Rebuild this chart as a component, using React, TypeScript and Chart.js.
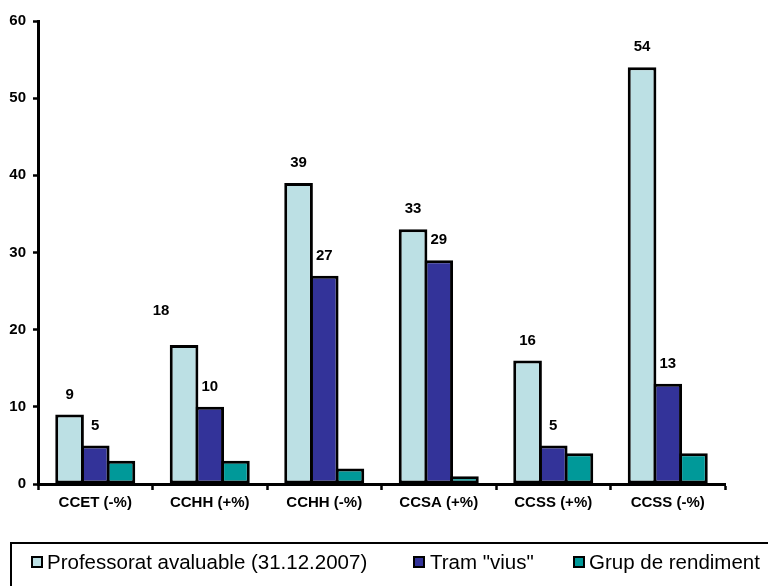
import React, { useEffect, useRef } from "react";
import { Chart, registerables } from "chart.js";

Chart.register(...registerables);

const categories = ["CCET (-%)", "CCHH (+%)", "CCHH (-%)", "CCSA (+%)", "CCSS (+%)", "CCSS (-%)"];
const seriesNames = ["Professorat avaluable (31.12.2007)", 'Tram "vius"', "Grup de rendiment"];
const professorat = [9, 18, 39, 33, 16, 54];
const tramVius = [5, 10, 27, 29, 5, 13];
const grupRendiment = [3, 3, 2, 1, 4, 4];
const seriesColors = ["#BCE0E4", "#333399", "#009999"];

const FONT = "'Liberation Sans', Arial, sans-serif";

const labelPlugin = {
  id: "barLabels",
  afterDatasetsDraw(chart: any) {
    const ctx = chart.ctx;
    ctx.save();
    ctx.font = `bold 15px ${FONT}`;
    ctx.fillStyle = "#000";
    ctx.textAlign = "center";
    ctx.textBaseline = "middle";
    [0, 1].forEach((di) => {
      const meta = chart.getDatasetMeta(di);
      const data = chart.data.datasets[di].data;
      meta.data.forEach((bar: any, i: number) => {
        let dx = 0;
        let dy = 0;
        if (di === 0 && i === 1) {
          dx = -23;
          dy = -14;
        }
        ctx.fillText(String(data[i]), bar.x + dx, bar.y - 20 + dy);
      });
    });
    ctx.restore();
  },
};

export default function App() {
  const ref = useRef<HTMLCanvasElement>(null);
  useEffect(() => {
    document.body.style.margin = "0";
    const values = [professorat, tramVius, grupRendiment];
    const chart = new Chart(ref.current!, {
      type: "bar",
      data: {
        labels: categories,
        datasets: values.map((v, i) => ({
          label: seriesNames[i],
          data: v,
          backgroundColor: seriesColors[i],
          borderColor: "#000",
          borderWidth: 3,
          borderSkipped: false,
          barPercentage: 1.115,
          categoryPercentage: 0.673,
        })),
      },
      options: {
        responsive: false,
        animation: false,
        layout: { padding: { left: 0, top: 21, right: 43, bottom: 56 } },
        plugins: { legend: { display: false }, tooltip: { enabled: false } },
        scales: {
          x: {
            afterFit: (s: any) => {
              s.height = 46;
            },
            grid: {
              offset: true,
              drawOnChartArea: false,
              drawTicks: true,
              tickLength: 6,
              tickColor: "#000",
              tickWidth: 2.5,
            },
            border: { display: true, color: "#000", width: 3 },
            ticks: {
              color: "#000",
              font: { family: FONT, size: 15, weight: "bold" },
              padding: 4,
              maxRotation: 0,
              autoSkip: false,
            },
          },
          y: {
            min: 0,
            max: 60,
            afterFit: (s: any) => {
              s.width = 38;
            },
            grid: {
              drawOnChartArea: false,
              drawTicks: true,
              tickLength: 5,
              tickColor: "#000",
              tickWidth: 2.5,
            },
            border: { display: true, color: "#000", width: 3 },
            ticks: {
              stepSize: 10,
              color: "#000",
              padding: 7,
              font: { family: FONT, size: 15, weight: "bold" },
            },
          },
        },
      },
      plugins: [labelPlugin],
    });
    return () => chart.destroy();
  }, []);

  const legendItems = [
    { sq: 31, tx: 47 },
    { sq: 413, tx: 430 },
    { sq: 573, tx: 589 },
  ];

  return (
    <div style={{ position: "relative", width: 768, height: 586, overflow: "hidden", background: "#fff" }}>
      <canvas ref={ref} width={768} height={586} style={{ position: "absolute", left: 0, top: 0 }} />
      <div
        style={{
          position: "absolute",
          left: 10,
          top: 542,
          width: 800,
          height: 80,
          border: "2px solid #000",
          boxSizing: "border-box",
        }}
      />
      {legendItems.map((it, i) => (
        <React.Fragment key={i}>
          <div
            style={{
              position: "absolute",
              left: it.sq,
              top: 556,
              width: 12,
              height: 12,
              boxSizing: "border-box",
              border: "2px solid #000",
              background: seriesColors[i],
            }}
          />
          <div
            style={{
              position: "absolute",
              left: it.tx,
              top: 551,
              lineHeight: "22px",
              fontSize: 20.5,
              fontFamily: FONT,
              color: "#000",
              whiteSpace: "nowrap",
            }}
          >
            {seriesNames[i]}
          </div>
        </React.Fragment>
      ))}
    </div>
  );
}
